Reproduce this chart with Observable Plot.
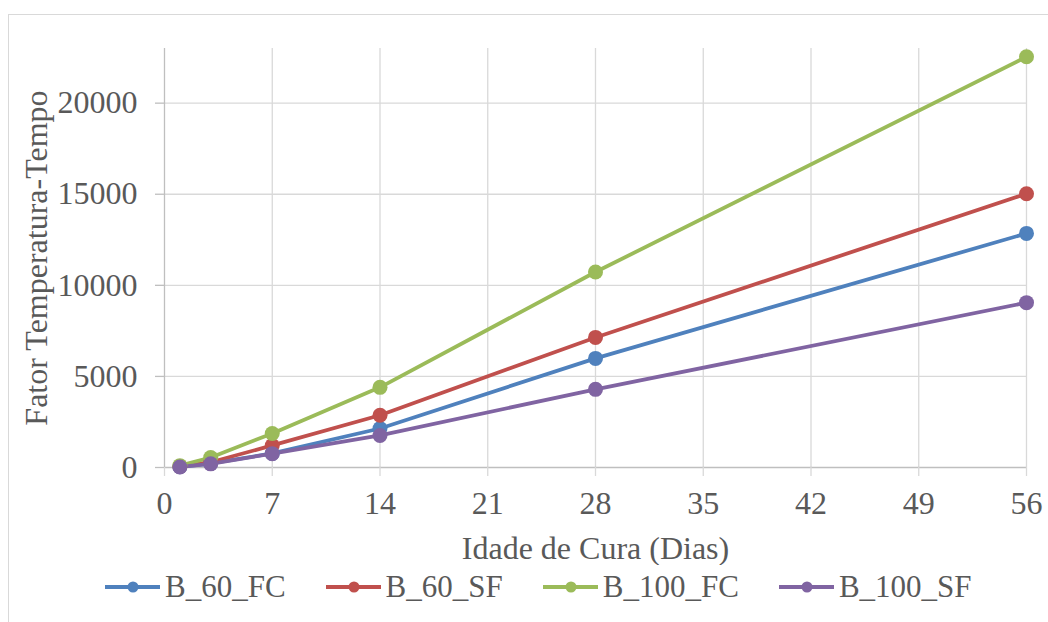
<!DOCTYPE html>
<html>
<head>
<meta charset="utf-8">
<script src="https://cdn.jsdelivr.net/npm/d3@7"></script>
<script src="https://cdn.jsdelivr.net/npm/@observablehq/plot@0.6"></script>
<style>
  html, body { margin: 0; padding: 0; background: #fff; overflow: hidden; width: 1048px; height: 622px; }
  #frame { position: absolute; left: 8px; top: 14px; width: 1200px; height: 700px; border: 1px solid #d9d9d9; box-sizing: border-box; }
  #chart { position: absolute; left: 0; top: 0; }
  #legend { position: absolute; left: 105px; top: 565px; height: 44px; display: flex; align-items: center;
            font-size: 31px; color: #595959; }
  .item { display: flex; align-items: center; margin-right: 40px; }
  .item svg { margin-right: 5px; }
</style>
</head>
<body>
<div id="frame"></div>
<div id="chart"></div>
<div id="legend"></div>
<script>
// Curing ages (days) and the temperature-time factor of each mix
const days = [1, 3, 7, 14, 28, 56];
const seriesNames = ["B_60_FC", "B_60_SF", "B_100_FC", "B_100_SF"];
const b60FC  = [40, 220, 770, 2140, 5990, 12850];
const b60SF  = [60, 290, 1210, 2870, 7140, 15030];
const b100FC = [100, 550, 1870, 4400, 10730, 22545];
const b100SF = [30, 200, 760, 1760, 4290, 9050];
const seriesColors = ["#4F81BD", "#C0504D", "#9BBB59", "#8064A2"];

const xTicks = [0, 7, 14, 21, 28, 35, 42, 49, 56];
const yTicks = [0, 5000, 10000, 15000, 20000];
const xLabel = "Idade de Cura (Dias)";
const yLabel = "Fator Temperatura-Tempo";

// Long-format table for the line and dot marks
const valuesBySeries = [b60FC, b60SF, b100FC, b100SF];
const data = seriesNames.flatMap((name, i) =>
  days.map((d, j) => ({series: name, day: d, value: valuesBySeries[i][j]}))
);

const font = '"Liberation Serif", "Times New Roman", Times, serif';
const textColor = "#595959";
const gridColor = "#d9d9d9";
const axisColor = "#bfbfbf";

document.body.style.fontFamily = font;

const chart = Plot.plot({
  width: 1048,
  height: 565,
  marginLeft: 164,
  marginRight: 22,
  marginTop: 48,
  marginBottom: 98,
  style: {fontFamily: font, fontSize: "32px", color: textColor, background: "transparent"},
  x: {domain: [0, 56]},
  y: {domain: [0, 23000]},
  color: {domain: seriesNames, range: seriesColors},
  marks: [
    Plot.gridX(xTicks.filter(d => d > 0), {stroke: gridColor, strokeOpacity: 1, strokeWidth: 1.3}),
    Plot.gridY(yTicks.filter(d => d > 0), {stroke: gridColor, strokeOpacity: 1, strokeWidth: 1.3}),
    Plot.ruleX([0], {stroke: axisColor, strokeWidth: 1.3}),
    Plot.ruleY([0], {stroke: axisColor, strokeWidth: 1.3}),
    Plot.axisX({ticks: xTicks, tickSize: 9, tickPadding: 15, stroke: gridColor, strokeWidth: 1.3,
                fill: textColor, fontSize: 32, label: null}),
    Plot.axisY({ticks: yTicks, tickSize: 9, tickPadding: 18, stroke: axisColor, strokeWidth: 1.3,
                fill: textColor, fontSize: 32, label: null, tickFormat: d => String(d)}),
    Plot.line(data, {x: "day", y: "value", z: "series", stroke: "series", strokeWidth: 3.8}),
    Plot.dot(data, {x: "day", y: "value", fill: "series", r: 7.5}),
    Plot.text([xLabel], {frameAnchor: "bottom", dy: 81, lineAnchor: "middle", fill: textColor, fontSize: 32}),
    Plot.text([yLabel], {frameAnchor: "left", dx: -128, rotate: -90, textAnchor: "middle", lineAnchor: "middle",
                         fill: textColor, fontSize: 32})
  ]
});
chart.style.fontFamily = font;
document.getElementById("chart").appendChild(chart);

// Legend: line-with-marker swatch followed by the series name
const legend = document.getElementById("legend");
legend.style.fontFamily = font;
seriesNames.forEach((name, i) => {
  const item = document.createElement("div");
  item.className = "item";
  item.innerHTML =
    `<svg width="55" height="14"><line x1="0" y1="7" x2="55" y2="7" stroke="${seriesColors[i]}" stroke-width="4"/>` +
    `<circle cx="28" cy="7" r="5.5" fill="${seriesColors[i]}"/></svg><span>${name}</span>`;
  legend.appendChild(item);
});
</script>
</body>
</html>
